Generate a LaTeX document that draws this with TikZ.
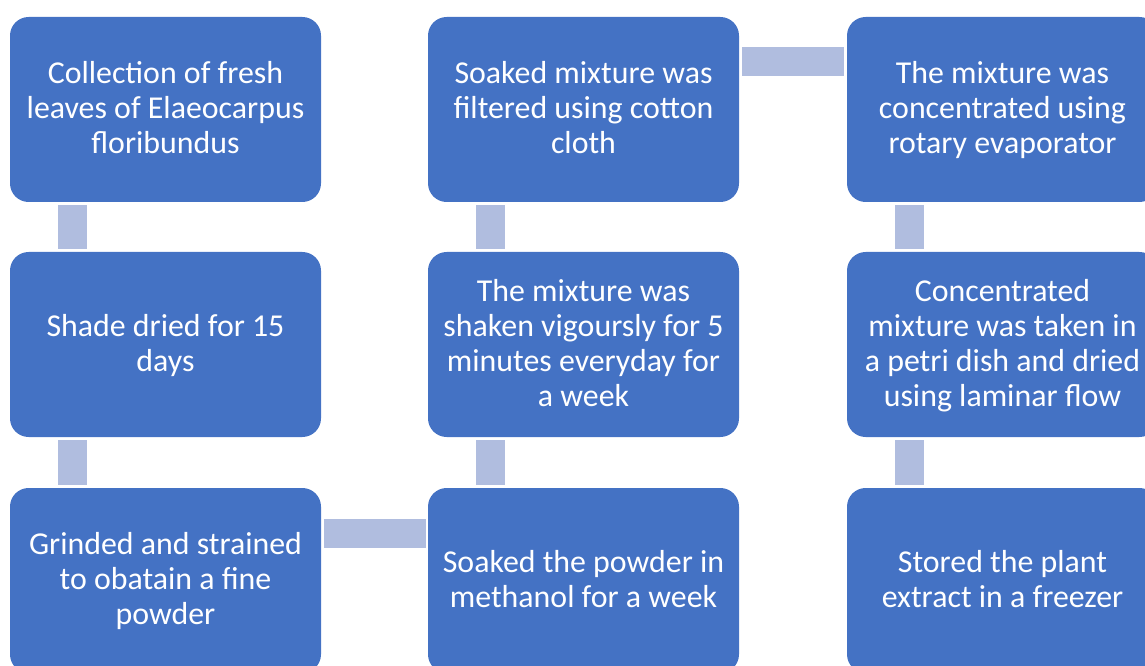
\documentclass[tikz,border=0pt]{standalone}
\usepackage{fontspec}
\setmainfont{Carlito}
\usetikzlibrary{calc}
\definecolor{boxblue}{HTML}{4472C4}
\definecolor{connblue}{HTML}{B0BDDF}
\newcommand{\topstrut}{\rule{0pt}{22pt}}
\newcommand{\botstrut}{\rule[-7.9pt]{0pt}{0pt}}
\tikzset{
  stepbox/.style={rectangle, rounded corners=14pt, fill=boxblue, draw=none,
    minimum width=233.25pt, minimum height=138.75pt, inner sep=0pt,
    text=white, align=center, font=\fontsize{23.9pt}{26.25pt}\selectfont,
    execute at end node=\botstrut},
  conn/.style={draw=connblue, line width=21.75pt, line cap=butt}
}
\begin{document}
\begin{tikzpicture}[x=0.75pt,y=-0.75pt]
\useasboundingbox (0,0) rectangle (1145,666);
\node[stepbox] (b1) at (165.5,109.5) {\topstrut Collection of fresh\\leaves of Elaeocarpus\\floribundus};
\node[stepbox] (b2) at (165.5,344.5) {\topstrut Shade dried for 15\\days};
\node[stepbox] (b3) at (165.5,580.5) {\topstrut Grinded and strained\\to obatain a fine\\powder};
\node[stepbox] (b4) at (583.5,580.5) {\topstrut Soaked the powder in\\methanol for a week};
\node[stepbox] (b5) at (583.5,344.5) {\topstrut The mixture was\\shaken vigoursly for 5\\minutes everyday for\\a week};
\node[stepbox] (b6) at (583.5,109.5) {\topstrut Soaked mixture was\\filtered using cotton\\cloth};
\node[stepbox] (b7) at (1002.5,109.5) {\topstrut The mixture was\\concentrated using\\rotary evaporator};
\node[stepbox] (b8) at (1002.5,344.5) {\topstrut Concentrated\\mixture was taken in\\a petri dish and dried\\using laminar flow};
\node[stepbox] (b9) at (1002.5,580.5) {\topstrut Stored the plant\\extract in a freezer};
% vertical connectors
\draw[conn] ($(b1.south west)+(62.5,3)$) -- ($(b2.north west)+(62.5,-3)$);
\draw[conn] ($(b2.south west)+(62.5,3)$) -- ($(b3.north west)+(62.5,-3)$);
\draw[conn] ($(b4.north west)+(62.5,-3)$) -- ($(b5.south west)+(62.5,3)$);
\draw[conn] ($(b5.north west)+(62.5,-3)$) -- ($(b6.south west)+(62.5,3)$);
\draw[conn] ($(b7.south west)+(62.5,3)$) -- ($(b8.north west)+(62.5,-3)$);
\draw[conn] ($(b8.south west)+(62.5,3)$) -- ($(b9.north west)+(62.5,-3)$);
% horizontal connectors
\draw[conn] ($(b3.north east)+(3,45.5)$) -- ($(b4.north west)+(-2,45.5)$);
\draw[conn] ($(b6.north east)+(3,44.5)$) -- ($(b7.north west)+(-3,44.5)$);
\end{tikzpicture}
\end{document}
